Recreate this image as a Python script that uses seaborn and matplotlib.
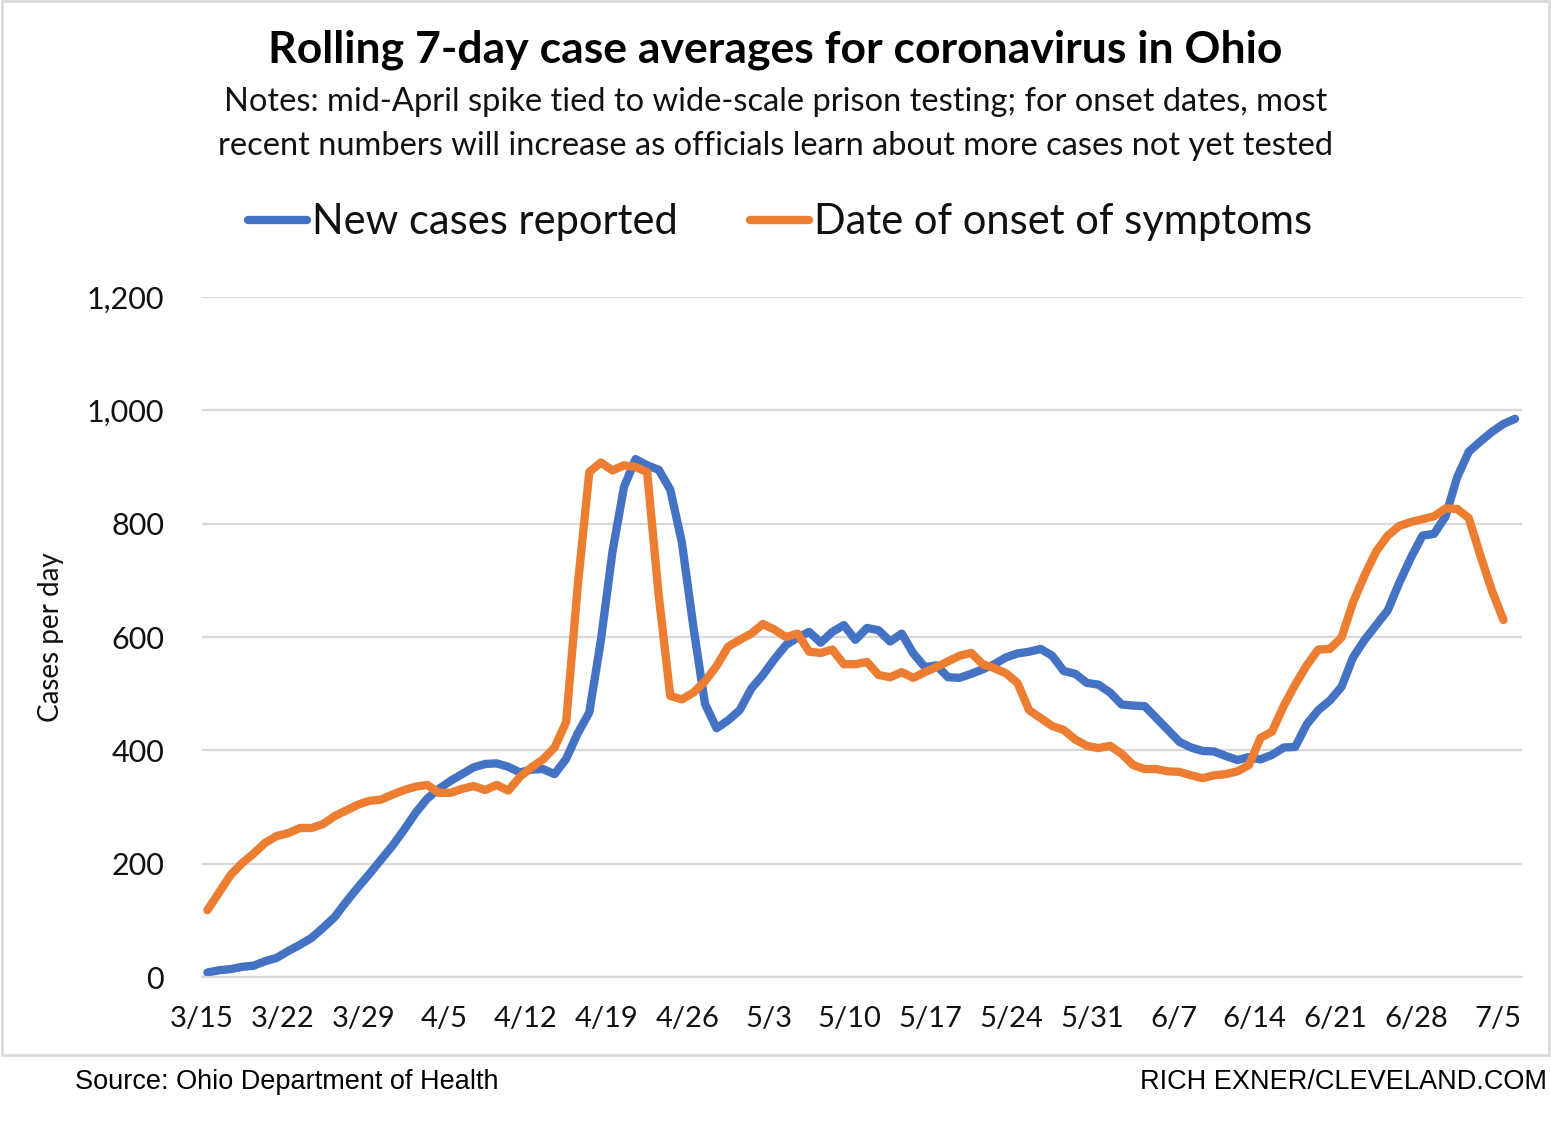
import pandas as pd
import numpy as np
import matplotlib
matplotlib.use("Agg")
import matplotlib.pyplot as plt
import seaborn as sns
from matplotlib.patches import Rectangle

# 7-day rolling averages, one value per day starting 3/15
new_cases = [8, 12, 14, 18, 20, 28, 34, 46, 57, 69, 87, 106, 133, 158, 182, 207,
             232, 260, 290, 315, 332, 346, 358, 370, 376, 377, 371, 361, 366, 367,
             358, 385, 430, 467, 594, 750, 865, 914, 903, 895, 860, 767, 617, 482,
             439, 453, 471, 509, 533, 561, 586, 599, 609, 590, 609, 621, 595, 616,
             612, 592, 606, 571, 547, 550, 529, 528, 535, 543, 552, 564, 571, 574,
             579, 567, 540, 535, 519, 516, 502, 481, 479, 478, 457, 436, 415, 405,
             399, 398, 390, 383, 388, 384, 392, 405, 406, 446, 471, 488, 512, 564,
             595, 621, 647, 696, 740, 779, 782, 813, 882, 927, 945, 962, 976, 985]

onset = [118, 149, 180, 201, 218, 237, 249, 254, 263, 263, 270, 284, 294, 304, 311,
         313, 322, 330, 336, 339, 325, 325, 332, 337, 330, 339, 329, 353, 370, 384,
         405, 450, 690, 891, 908, 894, 903, 900, 891, 673, 496, 490, 502, 522, 549,
         583, 595, 606, 623, 613, 600, 606, 574, 572, 578, 552, 552, 556, 533, 529,
         538, 528, 538, 547, 557, 567, 572, 552, 545, 536, 519, 471, 457, 443, 436,
         419, 408, 404, 408, 394, 374, 367, 367, 363, 362, 356, 351, 356, 358, 363,
         374, 422, 433, 478, 516, 550, 578, 579, 599, 661, 709, 751, 779, 796, 803,
         808, 813, 827, 826, 810, 744, 682, 630]

series_names = ["New cases reported", "Date of onset of symptoms"]
tick_labels = ["3/15", "3/22", "3/29", "4/5", "4/12", "4/19", "4/26", "5/3", "5/10",
               "5/17", "5/24", "5/31", "6/7", "6/14", "6/21", "6/28", "7/5"]
y_ticks = [0, 200, 400, 600, 800, 1000, 1200]

blue = "#4472C4"
orange = "#ED7D31"
grid_gray = "#d9d9d9"
text_col = "#111111"

# long-form table, points sit in the middle of each day slot
df = pd.concat([
    pd.DataFrame({"day": np.arange(len(new_cases)) + 0.5, "cases": new_cases,
                  "series": series_names[0]}),
    pd.DataFrame({"day": np.arange(len(onset)) + 0.5, "cases": onset,
                  "series": series_names[1]}),
])

sns.set_theme(style="white")
plt.rcParams["font.family"] = ["Lato", "DejaVu Sans"]

fig = plt.figure(figsize=(15.51, 11.22), dpi=100)
ax = fig.add_axes([0.130, 0.1292, 0.8513, 0.6061])

sns.lineplot(data=df, x="day", y="cases", hue="series", palette=[blue, orange],
             linewidth=6, ax=ax, solid_capstyle="round", solid_joinstyle="round")

ax.set_xlim(0, 114.1)
ax.set_ylim(0, 1200)
ax.set_xticks(np.arange(0, 7 * len(tick_labels), 7))
ax.set_xticklabels(tick_labels)
ax.set_yticks(y_ticks)
ax.set_yticklabels([f"{v:,}" for v in y_ticks])
ax.yaxis.grid(True, color=grid_gray, linewidth=1.6)
ax.set_axisbelow(True)
for side in ["left", "top", "right"]:
    ax.spines[side].set_visible(False)
ax.spines["bottom"].set_color(grid_gray)
ax.spines["bottom"].set_linewidth(1.6)
ax.tick_params(axis="x", length=8, width=1.6, color=grid_gray, pad=13,
               labelsize=21, labelcolor=text_col)
ax.tick_params(axis="y", length=0, pad=27, labelsize=22, labelcolor=text_col)
ax.set_xlabel("")
ax.set_ylabel("Cases per day", fontsize=20, color=text_col)
ax.yaxis.set_label_coords(-0.104, 0.5)

handles, labels = ax.get_legend_handles_labels()
ax.legend(handles, labels, loc="center", bbox_to_anchor=(0.503, 0.802),
          bbox_transform=fig.transFigure, ncol=2, frameon=False, fontsize=30,
          handlelength=1.4, handletextpad=0.12, columnspacing=1.75,
          labelcolor=text_col)

fig.text(0.5, 1 - 50 / 1122, "Rolling 7-day case averages for coronavirus in Ohio",
         ha="center", va="center", fontsize=32, fontweight="bold", color="#000000")
fig.text(0.5, 1 - 102 / 1122,
         "Notes: mid-April spike tied to wide-scale prison testing; for onset dates, most",
         ha="center", va="center", fontsize=23.5, color=text_col)
fig.text(0.5, 1 - 146 / 1122,
         "recent numbers will increase as officials learn about more cases not yet tested",
         ha="center", va="center", fontsize=23.5, color=text_col)

# chart frame
fig.patches.append(Rectangle((0.001, 1 - 1055 / 1122), 0.998, 1055 / 1122 - 0.001,
                             transform=fig.transFigure, fill=False,
                             edgecolor=grid_gray, linewidth=2))

foot = ["Liberation Sans Narrow", "Liberation Sans"]
fig.text(75 / 1551, 1 - 1082 / 1122, "Source: Ohio Department of Health",
         ha="left", va="center", fontsize=19.5, family=foot, color="#000000")
fig.text(1547 / 1551, 1 - 1082 / 1122, "RICH EXNER/CLEVELAND.COM",
         ha="right", va="center", fontsize=19.5, family=foot, color="#000000")

fig.savefig("out.png", dpi=100, facecolor="white")
